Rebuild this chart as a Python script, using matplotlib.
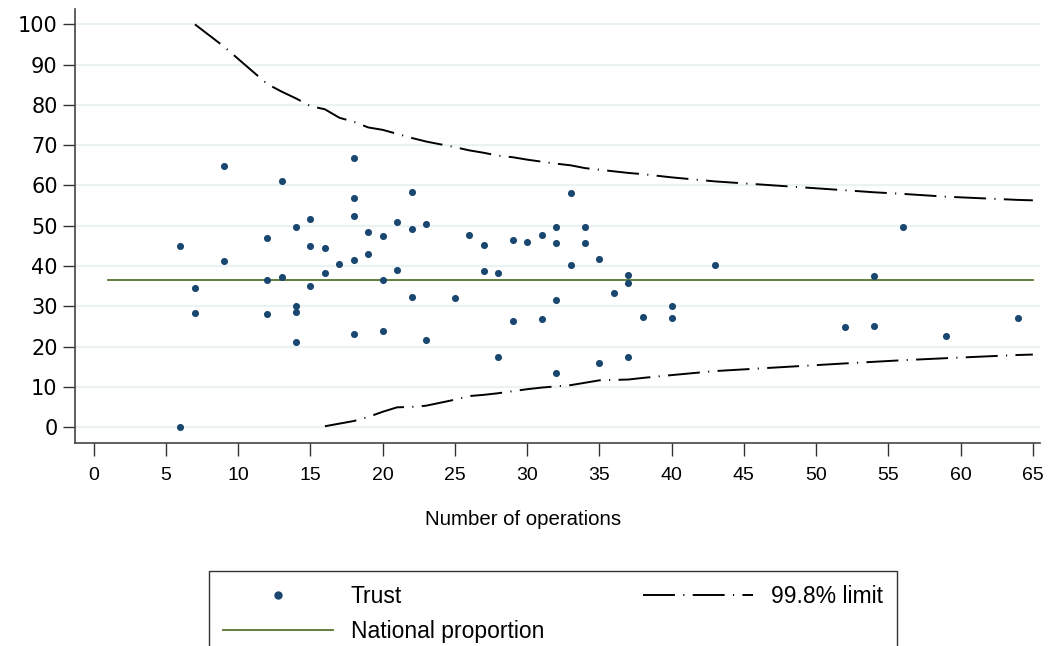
import matplotlib
matplotlib.use("Agg")
import matplotlib.pyplot as plt
from matplotlib.lines import Line2D

# Trust results: number of operations vs proportion (%)
trust_n = [6, 6, 7, 7, 9, 9, 12, 12, 12, 13, 13, 14, 14, 14, 14, 15, 15, 15,
           16, 16, 17, 18, 18, 18, 18, 18, 19, 19, 20, 20, 20, 21, 21,
           22, 22, 22, 23, 23, 25, 26, 27, 27, 28, 28, 29, 29, 30, 31, 31,
           32, 32, 32, 32, 33, 33, 34, 34, 35, 35, 36, 37, 37, 37, 38,
           40, 40, 43, 52, 54, 54, 56, 59, 64]
trust_pct = [45, 0, 34.5, 28.3, 64.8, 41.2, 46.9, 36.5, 28, 61, 37.2, 49.6, 30, 28.5, 21.2,
             51.6, 44.9, 35, 44.4, 38.2, 40.4, 66.7, 56.8, 52.4, 41.4, 23.2, 48.5, 42.9,
             47.4, 36.5, 23.8, 50.8, 39, 58.3, 49.3, 32.2, 50.4, 21.6, 32, 47.6, 45.1, 38.8,
             38.2, 17.4, 46.4, 26.3, 46, 47.7, 26.8, 49.8, 45.6, 31.5, 13.4, 58, 40.2,
             49.8, 45.7, 41.7, 16, 33.3, 37.7, 35.7, 17.4, 27.3, 30, 27, 40.2, 24.8,
             37.5, 25.1, 49.6, 22.6, 27]

national_x = [1, 65]
national_pct = [36.5, 36.5]

upper_n = [7, 9, 12, 13, 14, 15, 16, 17, 18, 19, 20, 21, 22, 23, 25, 26, 27, 28, 29,
           30, 31, 32, 33, 34, 35, 36, 37, 38, 40, 43, 52, 54, 56, 59, 64, 65]
upper_pct = [100, 94.5, 85.2, 83.3, 81.6, 79.7, 78.9, 76.8, 75.8, 74.4, 73.8, 72.8, 71.8,
             70.9, 69.5, 68.7, 68.1, 67.4, 67.0, 66.4, 65.9, 65.4, 65.0, 64.3, 63.9, 63.5,
             63.1, 62.8, 62.0, 61.0, 58.8, 58.3, 57.9, 57.2, 56.4, 56.3]

lower_n = [16, 18, 19, 20, 21, 22, 23, 25, 26, 27, 28, 29, 30, 31, 32, 33, 35, 37, 38,
           40, 43, 52, 54, 56, 59, 64, 65]
lower_pct = [0.2, 1.5, 2.5, 3.8, 4.9, 5.0, 5.3, 6.8, 7.7, 8.0, 8.4, 8.9, 9.4, 9.8, 10.1,
             10.4, 11.6, 11.8, 12.2, 12.9, 13.9, 15.8, 16.2, 16.6, 17.1, 17.9, 18.0]

xticks = list(range(0, 70, 5))
yticks = list(range(0, 110, 10))

navy = "#1a476f"
green = "#55752f"
grid_col = "#eaf2f3"
wide_font = ["DejaVu Sans"]
narrow_font = ["Liberation Sans", "DejaVu Sans"]
dashdot = (0, (23, 6, 0.8, 6))

plt.rcParams["lines.scale_dashes"] = False

fig = plt.figure(figsize=(10.49, 6.46), dpi=100)
ax = fig.add_axes([0.0715, 0.314, 0.92, 0.672])

# grid first so data sits on top
for yv in yticks:
    ax.axhline(yv, color=grid_col, linewidth=1.6, zorder=0)

ax.plot(national_x, national_pct, color=green, linewidth=1.3, zorder=2)
ax.plot(upper_n, upper_pct, color="black", linewidth=1.4, linestyle=dashdot, zorder=2)
ax.plot(lower_n, lower_pct, color="black", linewidth=1.4, linestyle=dashdot, zorder=2)
ax.scatter(trust_n, trust_pct, s=26, color=navy, linewidths=0, zorder=3)

ax.set_xlim(-1.3, 65.5)
ax.set_ylim(-4, 103.8)
ax.set_xticks(xticks)
ax.set_yticks(yticks)
ax.set_yticklabels([str(v) for v in yticks], family=wide_font, fontsize=15)
ax.set_xticklabels([str(v) for v in xticks], family=narrow_font, fontsize=14)
ax.tick_params(axis="y", direction="out", length=8.5, width=1, pad=4, color="#333333")
ax.tick_params(axis="x", direction="out", length=9, width=1, pad=8, color="#333333")

for side in ["top", "right"]:
    ax.spines[side].set_visible(False)
for side in ["left", "bottom"]:
    ax.spines[side].set_color("#444444")
    ax.spines[side].set_linewidth(1.2)

ax.set_xlabel("Number of operations", family=narrow_font, fontsize=14.7, va="center")
ax.xaxis.set_label_coords(0.464, -0.177)

handles = [
    Line2D([], [], marker="o", markersize=5, color=navy, linestyle="none"),
    Line2D([], [], color=green, linewidth=1.3),
    Line2D([], [], color="black", linewidth=1.4, linestyle=dashdot),
]
labels = ["Trust", "National proportion", "99.8% limit"]
leg = fig.legend(handles, labels, ncol=2, loc="upper center",
                 bbox_to_anchor=(0.527, 1 - 571 / 646), borderaxespad=0,
                 frameon=True, fancybox=False, edgecolor="black",
                 handlelength=4.8, handletextpad=0.8, columnspacing=4.3,
                 labelspacing=0.55, borderpad=0.6,
                 prop={"family": narrow_font, "size": 16.5})
leg.get_frame().set_linewidth(1.0)

fig.savefig("out.png", dpi=100)
